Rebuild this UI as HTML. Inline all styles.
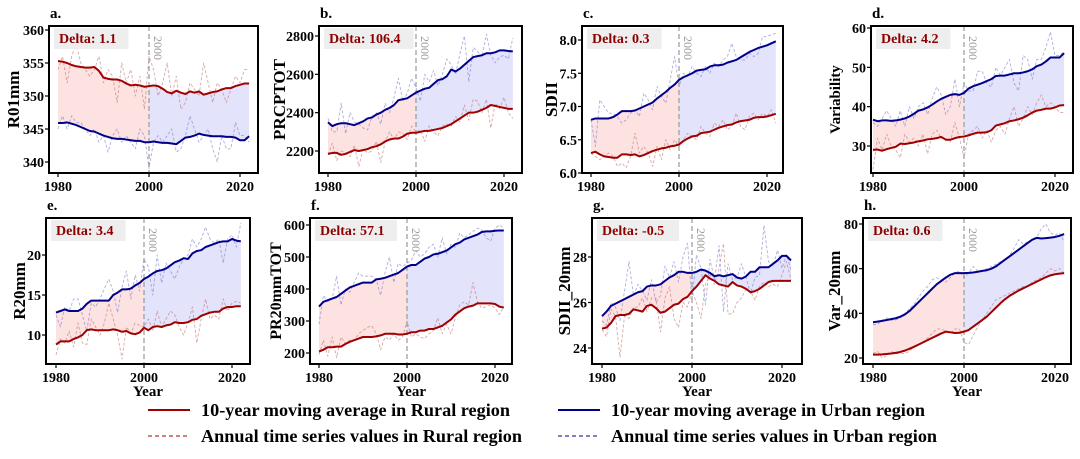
<!DOCTYPE html>
<html><head><meta charset="utf-8"><style>
body{margin:0;background:#fff;width:1080px;height:459px;overflow:hidden}
svg{display:block;font-family:"Liberation Serif",serif}
</style></head><body>
<svg id="fig" width="1080" height="459"></svg>
<script>
const years=[];for(let y=1980;y<=2022;y++)years.push(y);
const ruralMA_a=[355.3,355.2,355,354.7,354.5,354.4,354.3,354.3,354.4,353.8,352.8,352.6,352.5,352.5,352.3,351.9,351.6,351.7,351.6,351.4,351.5,351.6,351.5,351.1,350.6,350.4,350.8,350.5,350.3,350.7,350.5,350.7,350.2,350.4,350.6,350.7,351,351.2,351.2,351.5,351.7,351.9,351.9];
const urbanMA_a=[345.9,345.9,346,345.8,345.6,345.3,345.0,344.7,344.6,344.3,344.0,343.8,343.6,343.5,343.5,343.4,343.3,343.2,343.2,343.0,343.0,343.1,343.0,342.9,342.9,342.8,342.7,343.2,343.7,343.8,344.0,344.3,344.1,344.0,343.9,343.9,343.9,343.8,343.8,343.7,343.3,343.3,343.9];
const ruralAn_a=[354,356,352,356,358,355,354,353,354,356,352,354,353,349,355,352,354,350,353,348,356,354,350,352,355,350,353,348,349,352,351,350,355,352,349,352,351,349,351,353,352,354,354];
const urbanAn_a=[345,347,345,347,346,346,345,344,345,343,344,341.5,344,345,343,344,343,342,345,344,339,343,344,343,344,345,341.5,342,344,347,345,343,344,345,342,340,344,342,342,346,344,344,343];
const ruralMA_b=[2185,2190,2190,2180,2185,2195,2205,2200,2205,2210,2220,2225,2235,2250,2260,2265,2265,2275,2290,2295,2295,2300,2305,2305,2310,2315,2320,2330,2340,2355,2370,2385,2400,2400,2405,2415,2425,2440,2435,2430,2425,2420,2420];
const urbanMA_b=[2350,2330,2340,2345,2345,2340,2335,2345,2355,2370,2375,2390,2400,2415,2425,2440,2465,2470,2475,2490,2505,2515,2525,2530,2550,2570,2575,2590,2625,2615,2630,2650,2670,2690,2695,2700,2710,2710,2715,2725,2725,2722,2720];
const ruralAn_b=[2180,2240,2150,2200,2190,2170,2230,2120,2210,2190,2200,2250,2140,2250,2300,2260,2300,2290,2260,2330,2300,2310,2250,2330,2300,2280,2330,2340,2330,2380,2350,2440,2360,2470,2460,2400,2470,2320,2450,2420,2480,2400,2370];
const urbanAn_b=[2370,2300,2300,2450,2290,2400,2350,2340,2320,2310,2380,2400,2340,2450,2400,2480,2580,2460,2500,2580,2530,2460,2600,2560,2620,2540,2600,2680,2650,2600,2710,2800,2560,2740,2720,2690,2810,2700,2660,2690,2700,2680,2790];
const ruralMA_c=[6.3,6.32,6.28,6.25,6.24,6.23,6.23,6.28,6.28,6.27,6.28,6.25,6.27,6.3,6.33,6.35,6.37,6.38,6.40,6.41,6.43,6.48,6.52,6.55,6.56,6.6,6.61,6.62,6.65,6.68,6.7,6.72,6.73,6.76,6.78,6.79,6.8,6.83,6.84,6.84,6.85,6.87,6.89];
const urbanMA_c=[6.8,6.82,6.82,6.82,6.82,6.84,6.88,6.93,6.93,6.93,6.94,6.97,7.0,7.03,7.06,7.12,7.17,7.22,7.28,7.33,7.4,7.44,7.47,7.5,7.54,7.55,7.56,7.6,7.62,7.62,7.63,7.66,7.68,7.7,7.74,7.78,7.82,7.85,7.88,7.9,7.92,7.95,7.98];
const ruralAn_c=[6.3,6.25,6.2,6.25,6.3,6.25,6.1,6.15,6.08,6.25,6.6,6.3,6.4,6.3,6.1,6.4,6.2,6.5,6.35,6.5,6.4,6.5,6.6,6.55,6.5,6.7,6.6,6.55,6.75,6.7,6.8,6.65,6.7,6.9,6.7,6.65,6.85,6.9,6.8,6.9,6.85,6.95,6.75];
const urbanAn_c=[6.8,6.4,7.1,7.0,6.9,6.9,6.85,6.75,6.8,6.9,6.95,6.85,7.2,7.1,6.95,7.3,7.15,7.05,7.4,7.75,7.3,7.5,7.45,7.6,7.5,7.45,7.6,7.5,7.65,7.6,7.7,7.75,7.95,7.75,7.7,7.7,7.8,7.75,7.8,8.05,8.05,8.08,8.1];
const ruralMA_d=[29,29.1,28.8,29.2,29.5,29.8,30.6,30.5,30.7,30.9,31.2,31.4,31.7,31.8,32.0,32.3,31.6,31.6,32.0,32.3,32.4,32.7,33.1,33.4,33.4,33.5,34,35.2,35.5,35.8,36.3,36.5,36.8,37.2,37.8,38.5,39,39.2,39.5,39.5,39.8,40.3,40.4];
const urbanMA_d=[36.7,36.3,36.5,36.5,36.4,36.5,36.7,37,37.5,38.2,39,39.3,39.8,40.5,41.3,42,42.5,43,43.2,43,43.5,44.6,45.2,45.6,46,46.5,47,47.8,47.9,47.9,48.2,48.5,48.5,48.7,49,49.5,50.3,50.7,51.5,52.5,52.5,52.5,53.6];
const ruralAn_d=[24,32,29,33,30,29,27,33,31,32,30,33,28,33,34,32,32,31,36,32,27,33,34,35,32,34,31,34,35,33,37,40,35,37,40,38,41,43,40,41,40,38.5,38.5];
const urbanAn_d=[36,35,37,39,37,35,39,35,40,37,40,41,38,42,45,43,38,40,47,40,46,44,44,49,49,46,45,50,48,50,52,46,44,53,52,47,52,52,55,59,53,53,54];
const ruralMA_e=[8.8,9.2,9.2,9.2,9.5,9.7,10,10.6,10.7,10.6,10.6,10.6,10.6,10.7,10.6,10.4,10.5,10.2,10.1,10.3,10.9,10.6,11,11.1,11,11.2,11.3,11.6,11.5,11.5,11.6,11.9,12.0,12.4,12.6,12.8,12.9,12.9,13.3,13.5,13.5,13.6,13.6];
const urbanMA_e=[12.8,13.0,13.2,13.0,13.0,13.0,13.3,13.9,14.3,14.3,14.3,14.3,14.3,15.0,15.3,15.7,15.7,15.8,16.2,16.5,17.0,17.3,17.7,18,18.1,18.3,18.7,19.1,19.3,19.6,19.5,20.2,20.5,20.6,21,21.2,21.4,21.6,21.7,21.7,22,21.8,21.7];
const ruralAn_e=[7.5,9.5,9,10.5,8.5,11.5,9,8.8,12,11,10,11.5,14,12,10,7,11,10.2,11.5,11.2,11,12,10.5,13,11,12,13,12.5,11,10,11.5,13.5,9,12,14.5,12,12.5,12,14.5,13,14,14.2,14];
const urbanAn_e=[12.5,11,13.5,13,14.5,14.5,12.5,10.5,14,13.5,14.5,15.8,17,15.5,12.8,16,18,14.5,17.5,15.5,19.5,18.5,15,20,16.5,19,18,17,18.5,19.5,20,22,21,22,23.5,22,21.5,22,19,22,22.5,21,24];
const ruralMA_f=[205,210,218,218,220,220,228,235,240,245,250,250,250,252,255,260,260,260,258,258,260,265,265,270,270,275,275,280,285,295,305,320,330,340,345,348,355,355,355,355,353,345,342];
const urbanMA_f=[345,360,365,370,375,385,395,405,410,415,420,420,420,430,432,435,440,445,450,460,470,475,475,485,495,500,508,510,515,520,530,540,545,555,560,565,570,578,580,580,582,583,583];
const ruralAn_f=[195,240,190,250,185,250,230,240,240,260,270,280,285,260,210,250,240,260,240,250,300,250,260,250,245,260,270,310,260,290,260,310,350,360,350,420,360,340,345,350,340,320,345];
const urbanAn_f=[290,380,360,370,440,350,400,390,420,450,440,440,440,430,380,450,500,420,480,470,480,490,520,500,510,530,540,500,560,510,540,530,575,560,570,580,590,585,560,550,590,600,590];
const ruralMA_g=[24.85,24.9,25.1,25.4,25.45,25.45,25.5,25.7,25.65,25.6,25.85,25.9,25.75,25.55,25.6,25.75,25.9,25.95,26.15,26.25,26.5,26.7,26.95,27.2,27.05,26.95,26.8,26.75,26.7,26.9,26.75,26.7,26.6,26.45,26.5,26.6,26.75,26.9,26.95,26.95,26.95,26.95,26.95];
const urbanMA_g=[25.4,25.6,25.85,25.95,26.05,26.15,26.25,26.35,26.45,26.5,26.7,26.75,26.75,26.8,26.95,27.1,27.2,27.35,27.35,27.3,27.3,27.35,27.45,27.4,27.3,27.15,27.2,27.15,27.2,27.25,27.1,27.05,27.15,27.35,27.35,27.55,27.55,27.55,27.7,27.85,28.05,28.05,27.85];
const ruralAn_g=[24.8,24.5,25.7,25.4,23.6,25.4,25.3,25.8,25.8,26.2,25.6,26.2,26.2,24.7,26.2,26.7,25.3,24.9,26.0,25.8,26.5,26.0,25.3,26.8,27.2,26.8,27.5,28.6,25.5,25.5,26.0,26.2,26.6,26.5,26.1,26.7,26.9,26.7,26.8,26.7,27.2,27.8,27.0];
const urbanAn_g=[25.2,25.0,26.0,25.8,25.2,26.5,27.8,26.3,26.8,26.5,26.1,27.0,26.0,26.3,27.6,27.1,27.8,26.9,28.0,28.6,26.1,28.1,27.5,25.9,27.9,27.0,28.5,25.6,27.7,27.0,27.1,27.7,27.1,26.4,27.1,27.2,29.4,27.8,27.6,28.3,27.5,28.1,27.4];
const ruralMA_h=[21.5,21.5,21.6,21.8,22,22.3,22.7,23.3,24.1,25,26,27,28,29,30,31,31.8,31.5,31.2,31.3,31.8,32.5,34,35.5,37,38.5,40.5,42.5,44.5,46.3,47.8,49,50.2,51.2,52.2,53.2,54.2,55.2,56.2,57,57.5,57.8,58];
const urbanMA_h=[36,36.3,36.6,37,37.4,37.8,38.5,39.5,41,43,45,47,49,51,53,54.5,56,57.3,58,58,58,58.1,58.3,58.6,59,59.3,60,61,62.5,64,65.5,67,68.5,70,71.5,73,73.8,73.5,73.7,73.9,74.2,74.7,75.5];
const ruralAn_h=[22,23,20,21,23,22,22,22,23,25,26,27,29,31,33,33,32,31,33,33,27,26,30,34,37,40,43,46,47,48,49,50,51,52,52,54,55,56,58,60,59,60,58];
const urbanAn_h=[35,35,37,38,37,37,38,40,42,44,47,50,52,55,56,55,54,56,58,59,56,58,61,59,59,60,61,62,63,64,66,69,73,71,72,73,74,78,80,76,75,76,72];
const panelLetters=["a","b","c","d","e","f","g","h"];
const yLabels=["R01mm","PRCPTOT","SDII","Variability","R20mm","PR20mmTOT","SDII_20mm","Var_20mm"];
const deltas=["1.1","106.4","0.3","4.2","3.4","57.1","-0.5","0.6"];
const yTicks=[[340,345,350,355,360],[2200,2400,2600,2800],[6.0,6.5,7.0,7.5,8.0],[30,40,50,60],[10,15,20],[200,300,400,500,600],[24,26,28],[20,40,60,80]];
const xTicks=[1980,2000,2020];
const series={a:[ruralMA_a,urbanMA_a,ruralAn_a,urbanAn_a],b:[ruralMA_b,urbanMA_b,ruralAn_b,urbanAn_b],c:[ruralMA_c,urbanMA_c,ruralAn_c,urbanAn_c],d:[ruralMA_d,urbanMA_d,ruralAn_d,urbanAn_d],e:[ruralMA_e,urbanMA_e,ruralAn_e,urbanAn_e],f:[ruralMA_f,urbanMA_f,ruralAn_f,urbanAn_f],g:[ruralMA_g,urbanMA_g,ruralAn_g,urbanAn_g],h:[ruralMA_h,urbanMA_h,ruralAn_h,urbanAn_h]};
const layout=[
 {f:[49,258,26,173],xa:[58,149],ya:[340,162,360,30],yt:19,fs:17},
 {f:[319,522,26,173],xa:[328,416],ya:[2200,151,2800,36],yt:285,fs:17},
 {f:[582,783,26,173],xa:[591,679],ya:[6,173,8,40],yt:557,fs:17},
 {f:[871,1073,26,173],xa:[873,964],ya:[30,146,60,28],yt:840,fs:15},
 {f:[46,250,218,364],xa:[56,144],ya:[10,335,20,255],yt:25,fs:17},
 {f:[310,512,218,364],xa:[319,407],ya:[200,353,600,225],yt:281,fs:16},
 {f:[592,802,218,364],xa:[602,692],ya:[24,348,28,257],yt:570,fs:17},
 {f:[863,1071,218,364],xa:[873,964],ya:[20,358,80,224],yt:840,fs:17}];
const NS="http://www.w3.org/2000/svg";
const svg=document.getElementById('fig');
function mk(tag,attrs,parent,text){const e=document.createElementNS(NS,tag);for(const k in attrs)e.setAttribute(k,attrs[k]);if(text!==undefined)e.textContent=text;(parent||svg).appendChild(e);return e;}
const defs=mk('defs',{});
layout.forEach((L,i)=>{
 const id=panelLetters[i];
 const [x0,x1,y0,y1]=L.f;
 const X=yr=>L.xa[0]+(yr-1980)*(L.xa[1]-L.xa[0])/20;
 const Y=v=>L.ya[1]+(v-L.ya[0])*(L.ya[3]-L.ya[1])/(L.ya[2]-L.ya[0]);
 const cp=mk('clipPath',{id:'clip'+i},defs);mk('rect',{x:x0,y:y0,width:x1-x0,height:y1-y0},cp);
 const g=mk('g',{});
 
 
 const [rMA,uMA,rAn,uAn]=series[id];
 const pg=mk('g',{'clip-path':'url(#clip'+i+')'},g);
 function band(a,b){let pts=[];for(let k=a;k<=b;k++)pts.push(X(years[k])+','+Y(uMA[k]));for(let k=b;k>=a;k--)pts.push(X(years[k])+','+Y(rMA[k]));return pts.join(' ');}
 const f1=mk('polygon',{points:band(0,20),fill:'#fde2e2'},pg);
 
 
 const f2=mk('polygon',{points:band(20,42),fill:'#e3e3fb'},pg);
 
 
 const line=(arr,col,w,dash,name)=>{const p=mk('polyline',{points:arr.map((v,k)=>X(years[k])+','+Y(v)).join(' '),fill:'none',stroke:col,'stroke-width':w,'stroke-dasharray':dash||'none','stroke-linejoin':'round'},pg);
  
  };
 line(rAn,'rgba(190,110,110,0.6)',0.9,'3,2','rural-annual-line');
 line(uAn,'rgba(120,120,200,0.6)',0.9,'3,2','urban-annual-line');
 const vl=mk('line',{x1:X(2000),x2:X(2000),y1:y0,y2:y1,stroke:'#999','stroke-width':1.2,'stroke-dasharray':'5,3'},pg);
 
 
 const vt=mk('text',{x:0,y:0,transform:`translate(${X(2000)+5},${y0+10}) rotate(90)`,'font-size':12,fill:'#999'},pg,'2000');
 
 
 line(rMA,'#a00000',2,null,'rural-moving-average');
 line(uMA,'#00008b',2,null,'urban-moving-average');
 const db=mk('rect',{x:x0+5,y:y0+2,width:deltas[i].length*7.5+52,height:21,fill:'#eeeeee'},g);
 
 
 const dt=mk('text',{x:x0+10,y:y0+17,'font-size':14,'font-weight':'bold',fill:'#8b0000'},g,'Delta: '+deltas[i]);
 
 
 const fr=mk('rect',{x:x0,y:y0,width:x1-x0,height:y1-y0,fill:'none',stroke:'#000','stroke-width':2},g);
 
 
 yTicks[i].forEach(v=>{const yy=Y(v);mk('line',{x1:x0-4,x2:x0,y1:yy,y2:yy,stroke:'#000','stroke-width':1.2},g);
  const t=mk('text',{x:x0-5,y:yy+5,'text-anchor':'end','font-size':14,'font-weight':'bold'},g,i==2?v.toFixed(1):String(v));
  
  });
 xTicks.forEach(v=>{const xx=X(v);mk('line',{x1:xx,x2:xx,y1:y1,y2:y1+4,stroke:'#000','stroke-width':1.2},g);
  const t=mk('text',{x:xx,y:y1+18,'text-anchor':'middle','font-size':14,'font-weight':'bold'},g,String(v));
  
  });
 const pl=mk('text',{x:x0+1,y:y0-8,'font-size':15,'font-weight':'bold'},g,id+'.');
 
 
 const yl=mk('text',{x:0,y:0,transform:`translate(${L.yt},${(y0+y1)/2}) rotate(-90)`,'text-anchor':'middle','font-size':L.fs,'font-weight':'bold'},g,yLabels[i]);
 
 
 if(i>=4){const xl=mk('text',{x:(x0+x1)/2,y:396,'text-anchor':'middle','font-size':15,'font-weight':'bold'},g,'Year');
  
  }
});
const legendItems=[[148,410,'#a00000',null,'10-year moving average in Rural region'],[558,410,'#00008b',null,'10-year moving average in Urban region'],[148,436,'#a00000','4,3','Annual time series values in Rural region'],[558,436,'#00008b','4,3','Annual time series values in Urban region']];
legendItems.forEach(it=>{const g=mk('g',{});
 
 
 mk('line',{x1:it[0],x2:it[0]+42,y1:it[1],y2:it[1],stroke:it[2],'stroke-width':it[3]?1:2,'stroke-dasharray':it[3]||'none'},g);
 mk('text',{x:it[0]+53,y:it[1]+6,'font-size':18.2,'font-weight':'bold'},g,it[4]);});
</script>
</body></html>
